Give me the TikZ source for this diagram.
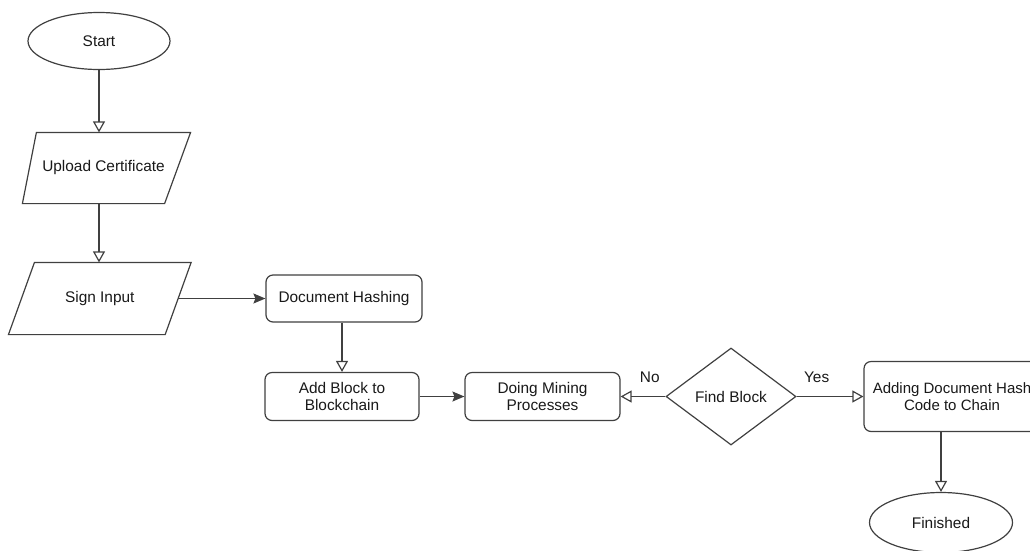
\documentclass[tikz,border=0pt]{standalone}
\usepackage{fontspec}
\setmainfont{Liberation Sans}
\usepackage{tikz}
\usetikzlibrary{arrows.meta,shapes.geometric,positioning,calc}

% slanted input box drawn round a plain node: #1 node, #2 left slant, #3 right slant
\newcommand{\ioframe}[3]{%
    \draw[fill=white] ($(#1.north west)+(#2,0)$) -- ($(#1.north east)+(#3,0)$)
        -- ($(#1.south east)-(#3,0)$) -- ($(#1.south west)-(#2,0)$) -- cycle;
    \node at (#1) {\csname iotext#1\endcsname};
}

\begin{document}
\begin{tikzpicture}[
        x=1pt, y=1pt,
        on grid,
        line width=1.2pt,
        color=black!75,
        every node/.style={font=\fontsize{15.4}{17}\selectfont, text=black!90},
        open/.style={-{Triangle[open, length=11pt, width=12pt]}},
        solid/.style={-{Stealth[length=12pt, width=10pt, inset=2pt]}},
        terminal/.style={ellipse, draw, fill=white},
        io/.style={rectangle, inner sep=0pt},
        process/.style={rectangle, rounded corners=7pt, draw, fill=white, align=center},
        decision/.style={diamond, aspect=1.34, draw, fill=white, inner sep=0pt}
    ]
    \useasboundingbox (0,0) rectangle (1030,-550);

    \node[terminal, minimum width=142pt, minimum height=57pt] (start) at (99,-41) {Start};
    \node[io, minimum width=147pt, minimum height=70pt] (upload) [below right=127pt and 4.5pt of start] {};
    \node[io, minimum width=155.5pt, minimum height=71pt] (sign) [below left=130.5pt and 3.7pt of upload] {};
    \node[process, minimum width=156pt, minimum height=47pt] (hash) [right=244.2pt of sign] {Document Hashing};
    \node[process, minimum width=154pt, minimum height=48pt] (addblock) [below left=98pt and 2pt of hash] {Add Block to\\Blockchain};
    \node[process, minimum width=155pt, minimum height=48pt] (mining) [right=200.5pt of addblock] {Doing Mining\\Processes};
    \node[decision, minimum width=130pt, minimum height=97pt] (find) [right=188.5pt of mining] {Find Block};
    \node[process, minimum width=176pt, minimum height=70pt, font=\fontsize{15}{17}\selectfont]
        (adding) [right=221pt of find] {Adding Document Hash\\Code to Chain};
    \node[terminal, minimum width=143pt, minimum height=60pt] (finished) [below left=126pt and 11pt of adding] {Finished};

    \def\iotextupload{Upload Certificate}
    \def\iotextsign{Sign Input}
    \ioframe{upload}{7}{13}
    \ioframe{sign}{13}{13}

        % down the left column
        \draw[open] (start.south) -- (start.south |- upload.north);
        \draw[open] (start.south |- upload.south) -- (start.south |- sign.north);

        % across
        \draw[solid] (sign.east) -- (hash.west);
        \draw[open] (addblock.north |- hash.south) -- (addblock.north);
        \draw[solid] (addblock.east) -- (mining.west);

        % decision
        \draw[open] (find.west) -- node[above=10pt, pos=0.35] {No} (mining.east);
        \draw[open] (find.east) -- node[above=10pt, pos=0.3] {Yes} (adding.west);

        % end
        \draw[open] (finished.north |- adding.south) -- (finished.north);

\end{tikzpicture}
\end{document}
